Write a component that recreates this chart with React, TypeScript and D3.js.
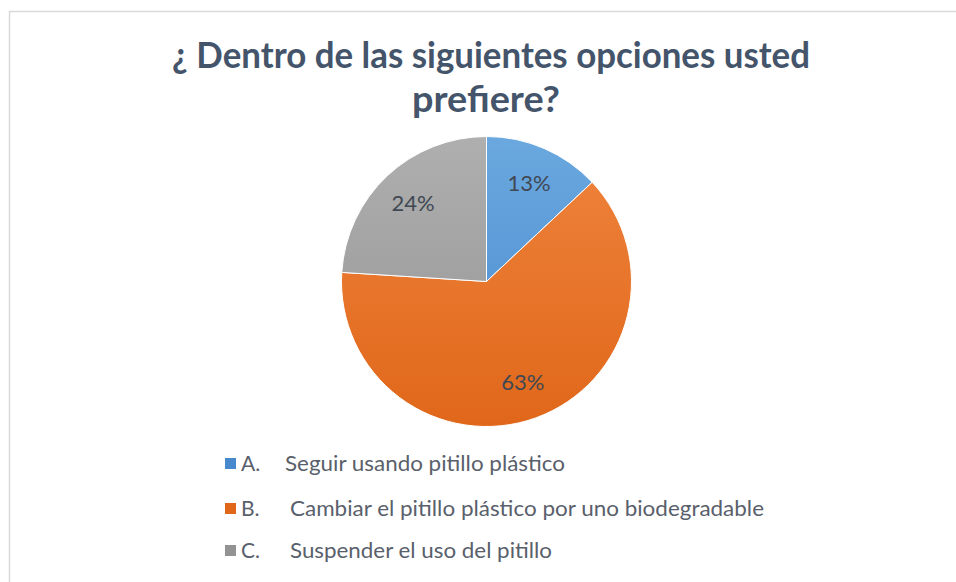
import React from "react";
import * as d3 from "d3";

const titleLines = ["¿ Dentro de las siguientes opciones usted", "prefiere?"];
const letters = ["A.", "B.", "C."];
const categories = [
  "Seguir usando pitillo plástico",
  "Cambiar el pitillo plástico por uno biodegradable",
  "Suspender el uso del pitillo",
];
const values = [13, 63, 24];
const colorsTop = ["#6aa8df", "#ef843d", "#afafaf"];
const colorsBottom = ["#4889cd", "#e0671a", "#939393"];

const W = 956;
const H = 582;
const cx = 486.5;
const cy = 281.5;
const R = 145;

const legendTextX = [285, 290, 290];
const legendTextW = [280, 474, 262];
const legendBase = [471, 516, 558];

export default function App() {
  const pie = d3.pie<number>().value((d) => d).sort(null);
  const arcs = pie(values);
  const arc = d3.arc<d3.PieArcDatum<number>>().innerRadius(0).outerRadius(R);
  const labelArc = d3
    .arc<d3.PieArcDatum<number>>()
    .innerRadius(R * 0.74)
    .outerRadius(R * 0.74);
  const total = d3.sum(values);
  const fmt = d3.format(".0%");

  return (
    <svg
      width={W}
      height={H}
      style={{ position: "absolute", left: 0, top: 0, background: "#fff" }}
    >
      <defs>
        {values.map((_, i) => (
          <linearGradient
            key={i}
            id={`g${i}`}
            gradientUnits="userSpaceOnUse"
            x1={0}
            y1={-R}
            x2={0}
            y2={R}
          >
            <stop offset="0%" stopColor={colorsTop[i]} />
            <stop offset="100%" stopColor={colorsBottom[i]} />
          </linearGradient>
        ))}
      </defs>
      <rect x={0} y={0} width={W} height={H} fill="#fff" />
      <rect
        x={9.5}
        y={11.5}
        width={W + 20}
        height={H + 20}
        fill="#fff"
        stroke="#d9d9d9"
        strokeWidth={1.5}
      />
      <g
        fontFamily="Lato, 'Open Sans', sans-serif"
        fontWeight={700}
        fill="#44546a"
        fontSize={37}
        textAnchor="middle"
      >
        <text x={491} y={68} textLength={638} lengthAdjust="spacingAndGlyphs">
          {titleLines[0]}
        </text>
        <text x={486} y={112} textLength={148} lengthAdjust="spacingAndGlyphs">
          {titleLines[1]}
        </text>
      </g>
      <g transform={`translate(${cx},${cy})`}>
        {arcs.map((a, i) => (
          <path
            key={i}
            d={arc(a) || ""}
            fill={`url(#g${i})`}
            stroke="#ffffff"
            strokeWidth={1}
          />
        ))}
        {arcs.map((a, i) => {
          const [x, y] = labelArc.centroid(a);
          return (
            <text
              key={i}
              x={x}
              y={y}
              dy="0.35em"
              textAnchor="middle"
              fontFamily="Lato, 'Open Sans', sans-serif"
              fontSize={22}
              fill="#404854"
            >
              {fmt(a.data / total)}
            </text>
          );
        })}
      </g>
      <g fontFamily="Lato, 'Open Sans', sans-serif" fontSize={21} fill="#59606b">
        {categories.map((c, i) => (
          <g key={i}>
            <rect
              x={225}
              y={legendBase[i] - 13}
              width={11}
              height={11}
              fill={colorsBottom[i]}
            />
            <text x={241} y={legendBase[i]}>
              {letters[i]}
            </text>
            <text
              x={legendTextX[i]}
              y={legendBase[i]}
              textLength={legendTextW[i]}
              lengthAdjust="spacingAndGlyphs"
            >
              {c}
            </text>
          </g>
        ))}
      </g>
    </svg>
  );
}
